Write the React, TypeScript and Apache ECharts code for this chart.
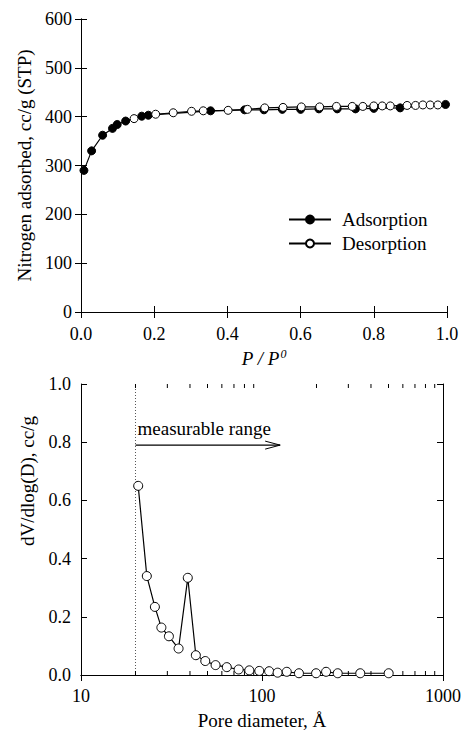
import React, { useEffect, useRef } from "react";
import * as echarts from "echarts";

const FONT = "'Liberation Serif', 'Times New Roman', serif";

// Top chart: nitrogen isotherm
const P_ADS = [0.008, 0.029, 0.059, 0.086, 0.099, 0.122, 0.166, 0.184, 0.354, 0.447, 0.5, 0.55, 0.6, 0.65, 0.7, 0.75, 0.8, 0.872, 0.996];
const V_ADS = [290, 330, 362, 376, 384, 391, 401, 403, 412, 414, 414, 415, 415, 416, 416, 416, 417, 418, 425];
const P_DES = [0.145, 0.204, 0.252, 0.302, 0.334, 0.402, 0.455, 0.502, 0.552, 0.602, 0.652, 0.698, 0.741, 0.77, 0.8, 0.823, 0.845, 0.891, 0.914, 0.934, 0.954, 0.975];
const V_DES = [396, 405, 408, 411, 412, 413, 415, 418, 419, 420, 420, 421, 421, 421, 422, 422, 422, 423, 423, 424, 424, 424];

// Bottom chart: pore size distribution
const PORE_D = [20.7, 23.1, 25.6, 27.8, 30.6, 34.6, 38.9, 43.1, 48.6, 55.4, 63.9, 74.3, 85.1, 96.6, 109.5, 122, 137, 160, 199, 226, 262, 349, 501];
const PORE_V = [0.65, 0.34, 0.234, 0.163, 0.133, 0.091, 0.334, 0.068, 0.048, 0.034, 0.027, 0.019, 0.016, 0.014, 0.013, 0.008, 0.011, 0.006, 0.006, 0.011, 0.006, 0.006, 0.006];

const MINOR_TICKS = [20, 30, 40, 50, 60, 70, 80, 90, 200, 300, 400, 500, 600, 700, 800, 900];
const RANGE_START = 20;
const RANGE_ARROW = [20, 126, 0.79];
const RANGE_TEXT = "measurable range";

const axisLine = { show: true, lineStyle: { color: "#000", width: 1 } };
const labelStyle = { color: "#000", fontSize: 18, fontFamily: FONT };
const NAME_SIZE = 19;

export default function App() {
  const ref = useRef<HTMLDivElement>(null);
  useEffect(() => {
    if (!ref.current) return;
    const chart = echarts.init(ref.current, null, { renderer: "svg" });
    const tickIn = (len: number) => ({ show: true, inside: true, length: len, lineStyle: { color: "#000", width: 1 } });
    chart.setOption({
      animation: false,
      backgroundColor: "#fff",
      textStyle: { fontFamily: FONT },
      grid: [
        { left: 81, top: 19, width: 366, height: 293 },
        { left: 81, top: 384, width: 366, height: 293 },
      ],
      legend: {
        orient: "vertical",
        left: 283,
        top: 205,
        itemWidth: 42,
        itemHeight: 10,
        itemGap: 5,
        textStyle: { color: "#000", fontSize: NAME_SIZE, fontFamily: FONT, padding: [0, 0, 0, 6] },
        data: ["Adsorption", "Desorption"],
      },
      xAxis: [
        {
          gridIndex: 0, type: "value", min: 0, max: 1, interval: 0.2, position: "bottom",
          axisLine, axisTick: tickIn(6), splitLine: { show: false },
          axisLabel: { ...labelStyle, margin: 13, formatter: (v: number) => v.toFixed(1) },
          name: "{a|P / P}{b|0}", nameLocation: "middle", nameGap: 36,
          nameTextStyle: {
            rich: {
              a: { fontSize: NAME_SIZE, fontStyle: "italic", fontFamily: FONT, color: "#000" },
              b: { fontSize: 12, fontStyle: "italic", fontFamily: FONT, color: "#000", verticalAlign: "top", padding: [0, 0, 8, 1] },
            },
          },
        },
        {
          gridIndex: 0, type: "value", min: 0, max: 1, interval: 0.2, position: "top",
          axisLine, axisTick: tickIn(6), axisLabel: { show: false }, splitLine: { show: false },
        },
        {
          gridIndex: 1, type: "log", logBase: 10, min: 10, max: 1000, position: "bottom",
          axisLine, axisTick: tickIn(6), splitLine: { show: false }, minorTick: { show: false },
          axisLabel: { ...labelStyle, margin: 12, formatter: (v: number) => String(Math.round(v)) },
          name: "Pore diameter, Å", nameLocation: "middle", nameGap: 36,
          nameTextStyle: { fontSize: NAME_SIZE, fontFamily: FONT, color: "#000" },
        },
        {
          gridIndex: 1, type: "log", logBase: 10, min: 10, max: 1000, position: "top",
          axisLine, axisTick: tickIn(6), axisLabel: { show: false }, splitLine: { show: false },
        },
      ],
      yAxis: [
        {
          gridIndex: 0, type: "value", min: 0, max: 600, interval: 100, position: "left",
          axisLine, axisTick: tickIn(6), splitLine: { show: false },
          axisLabel: { ...labelStyle, margin: 9 },
          name: "Nitrogen adsorbed, cc/g (STP)", nameLocation: "middle", nameGap: 44,
          nameTextStyle: { fontSize: NAME_SIZE, fontFamily: FONT, color: "#000" },
        },
        {
          gridIndex: 0, type: "value", min: 0, max: 600, interval: 100, position: "right",
          axisLine, axisTick: tickIn(6), axisLabel: { show: false }, splitLine: { show: false },
        },
        {
          gridIndex: 1, type: "value", min: 0, max: 1, interval: 0.2, position: "left",
          axisLine, axisTick: tickIn(6), splitLine: { show: false },
          axisLabel: { ...labelStyle, margin: 10, formatter: (v: number) => v.toFixed(1) },
        },
        {
          gridIndex: 1, type: "value", min: 0, max: 1, interval: 0.2, position: "right",
          axisLine, axisTick: tickIn(6), axisLabel: { show: false }, splitLine: { show: false },
        },
      ],
      graphic: [
        {
          type: "text", x: 27, y: 481, rotation: Math.PI / 2,
          style: { text: "dV/dlog(D), cc/g", fill: "#000", fontSize: NAME_SIZE, fontFamily: FONT, align: "center", verticalAlign: "middle" },
        },
      ],
      series: [
        {
          name: "Adsorption", type: "line", xAxisIndex: 0, yAxisIndex: 0,
          data: P_ADS.map((p, i) => [p, V_ADS[i]]),
          symbol: "circle", symbolSize: 8, showAllSymbol: true,
          lineStyle: { color: "#000", width: 1.2 },
          itemStyle: { color: "#000", borderColor: "#000", borderWidth: 1 },
        },
        {
          name: "Desorption", type: "line", xAxisIndex: 0, yAxisIndex: 0,
          data: P_DES.map((p, i) => [p, V_DES[i]]),
          symbol: "circle", symbolSize: 8, showAllSymbol: true,
          lineStyle: { color: "#000", width: 1.2 },
          itemStyle: { color: "#fff", borderColor: "#000", borderWidth: 1 },
        },
        {
          name: "PSD", type: "line", xAxisIndex: 2, yAxisIndex: 2,
          data: PORE_D.map((d, i) => [d, PORE_V[i]]),
          symbol: "circle", symbolSize: 9, showAllSymbol: true,
          lineStyle: { color: "#000", width: 1.2 },
          itemStyle: { color: "#fff", borderColor: "#000", borderWidth: 1 },
          z: 3,
        },
        {
          type: "custom", xAxisIndex: 2, yAxisIndex: 2, silent: true, clip: false,
          data: MINOR_TICKS.map((v) => [v]),
          renderItem: (params: any, api: any) => {
            const v = api.value(0);
            const b = api.coord([v, 0]);
            const t = api.coord([v, 1]);
            return {
              type: "group",
              children: [
                { type: "line", shape: { x1: b[0], y1: b[1], x2: b[0], y2: b[1] - 4 }, style: { stroke: "#000", lineWidth: 1 } },
                { type: "line", shape: { x1: t[0], y1: t[1], x2: t[0], y2: t[1] + 4 }, style: { stroke: "#000", lineWidth: 1 } },
              ],
            };
          },
        },
        {
          type: "custom", xAxisIndex: 2, yAxisIndex: 2, silent: true, clip: false, z: 1,
          data: [[RANGE_START]],
          renderItem: (params: any, api: any) => {
            const b = api.coord([RANGE_START, 0]);
            const t = api.coord([RANGE_START, 1]);
            const a1 = api.coord([RANGE_ARROW[0], RANGE_ARROW[2]]);
            const a2 = api.coord([RANGE_ARROW[1], RANGE_ARROW[2]]);
            return {
              type: "group",
              children: [
                { type: "line", shape: { x1: b[0], y1: b[1], x2: t[0], y2: t[1] }, style: { stroke: "#555", lineWidth: 1, lineDash: [1, 2] } },
                { type: "line", shape: { x1: a1[0], y1: a1[1], x2: a2[0], y2: a2[1] }, style: { stroke: "#000", lineWidth: 1.2 } },
                { type: "polyline", shape: { points: [[a2[0] - 15, a2[1] - 4], [a2[0], a2[1]], [a2[0] - 15, a2[1] + 4]] }, style: { stroke: "#000", lineWidth: 1, fill: "none" } },
                { type: "text", x: a1[0] + 2, y: a1[1] - 7, style: { text: RANGE_TEXT, fill: "#000", fontSize: NAME_SIZE, fontFamily: FONT, align: "left", verticalAlign: "bottom" } },
              ],
            };
          },
        },
      ],
    });
    return () => chart.dispose();
  }, []);
  return <div ref={ref} style={{ position: "fixed", left: 0, top: 0, width: 464, height: 731, background: "#fff" }} />;
}
